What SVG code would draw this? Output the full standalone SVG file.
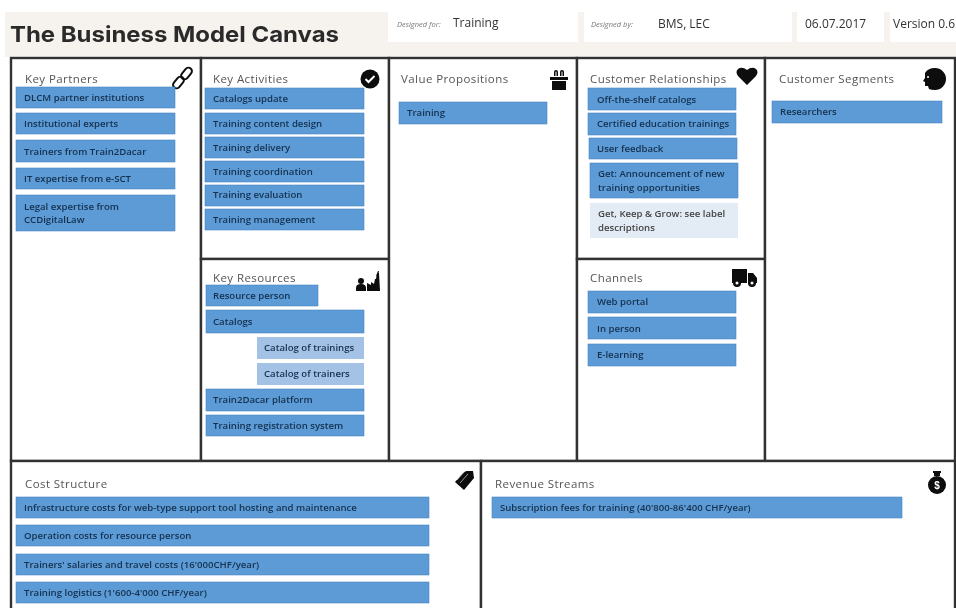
<svg xmlns="http://www.w3.org/2000/svg" width="956" height="608" viewBox="0 0 956 608">
<defs><filter id="soft" x="0" y="0" width="100%" height="100%"><feGaussianBlur stdDeviation="0.4"/></filter></defs>
<style>
.cell{fill:#fff;stroke:#333;stroke-width:2.4}
.h{font:11.5px "Open Sans","Liberation Sans",sans-serif;fill:#555;letter-spacing:.42px}
.b{fill:#5b9bd5;stroke:#4a88c4;stroke-width:.6}
.l{fill:#a4c2e6}
.p{fill:#e3ebf4}
.t{font:600 9.6px "Open Sans","Liberation Sans",sans-serif;fill:#16304f}
.d{fill:#444}
.m{font:12px "Open Sans","Liberation Sans",sans-serif;fill:#333}
.s{font:italic 7.500px "Open Sans","Liberation Sans",sans-serif;fill:#777}
.w{fill:#fff}
.i{fill:#0a0a0a}
</style>
<rect width="956" height="608" fill="#fff"/>
<g filter="url(#soft)">
<g id="header">
<rect x="5" y="12" width="951" height="45" fill="#f6f2ed"/>
<text x="10" y="42" font-family="Inter,'Liberation Sans',sans-serif" font-weight="700" font-size="22" fill="#2b2b2b" textLength="329" lengthAdjust="spacingAndGlyphs">The Business Model Canvas</text>
<rect class="w" x="388" y="10" width="190" height="32"/>
<rect class="w" x="584" y="10" width="208" height="32"/>
<rect class="w" x="797" y="10" width="87" height="32"/>
<rect class="w" x="890" y="10" width="66" height="32"/>
<text class="s" x="397" y="27">Designed for:</text><text class="m" x="453" y="27">Training</text>
<text class="s" x="591" y="27">Designed by:</text><text class="m" x="658" y="28" font-size="11">BMS, LEC</text>
<text class="m" x="805" y="28">06.07.2017</text>
<text class="m" x="893" y="28">Version 0.6</text>
</g>
<g id="key-partners">
<rect class="cell" x="11" y="58" width="190" height="403"/>
<text class="h" x="25" y="83">Key Partners</text>
<g fill="none" stroke="#111" stroke-width="2"><rect x="175" y="76" width="7" height="13" rx="3.500" transform="rotate(40 178.500 82.500)"/><rect x="183" y="67" width="7" height="13" rx="3.500" transform="rotate(40 186.500 73.500)"/></g>
<rect class="b" x="16" y="87" width="159" height="21"/><text class="t" x="24" y="101">DLCM partner institutions</text>
<rect class="b" x="16" y="113" width="159" height="21"/><text class="t" x="24" y="127">Institutional experts</text>
<rect class="b" x="16" y="140" width="159" height="22"/><text class="t" x="24" y="155">Trainers from Train2Dacar</text>
<rect class="b" x="16" y="168" width="159" height="21"/><text class="t" x="24" y="182">IT expertise from e-SCT</text>
<rect class="b" x="16" y="195" width="159" height="36"/><text class="t" x="24" y="210">Legal expertise from</text><text class="t" x="24" y="223">CCDigitalLaw</text>
</g>
<g id="key-activities">
<rect class="cell" x="201" y="58" width="188" height="201"/>
<text class="h" x="213" y="83">Key Activities</text>
<circle class="i" cx="370" cy="79" r="9.500"/><path d="M365.500 79l3 3 6-6" fill="none" stroke="#fff" stroke-width="2"/>
<rect class="b" x="205" y="88" width="159" height="21"/><text class="t" x="213" y="102">Catalogs update</text>
<rect class="b" x="205" y="113" width="159" height="21"/><text class="t" x="213" y="127">Training content design</text>
<rect class="b" x="205" y="137" width="159" height="21"/><text class="t" x="213" y="151">Training delivery</text>
<rect class="b" x="205" y="161" width="159" height="21"/><text class="t" x="213" y="175">Training coordination</text>
<rect class="b" x="205" y="185" width="159" height="21"/><text class="t" x="213" y="198">Training evaluation</text>
<rect class="b" x="205" y="209" width="159" height="21"/><text class="t" x="213" y="223">Training management</text>
</g>
<g id="key-resources">
<rect class="cell" x="201" y="259" width="188" height="202"/>
<text class="h" x="213" y="282">Key Resources</text>
<path class="i" d="M356 291v-3q0-4 5-4t5 4v3zM358 281a3 3 0 1 1 6 0a3 3 0 1 1-6 0zM367 291v-8l4 2v-3l3 2 1-5h1l1-6h2l1 18zM376 276l2-5h1l-1 5z"/>
<rect class="b" x="206" y="285" width="112" height="21"/><text class="t" x="213" y="299">Resource person</text>
<rect class="b" x="206" y="310" width="158" height="23"/><text class="t" x="213" y="325">Catalogs</text>
<rect class="l" x="257" y="337" width="107" height="22"/><text class="t" x="264" y="351">Catalog of trainings</text>
<rect class="l" x="257" y="363" width="107" height="22"/><text class="t" x="264" y="377">Catalog of trainers</text>
<rect class="b" x="206" y="389" width="158" height="22"/><text class="t" x="213" y="403">Train2Dacar platform</text>
<rect class="b" x="206" y="415" width="158" height="21"/><text class="t" x="213" y="429">Training registration system</text>
</g>
<g id="value-propositions">
<rect class="cell" x="389" y="58" width="188" height="403"/>
<text class="h" x="401" y="83">Value Propositions</text>
<path class="i" d="M550 77h18v3h-18zM552 81h14v9h-14zM554 76v-4a2 2 0 0 1 4 0v4h2v-4a2 2 0 0 1 4 0v4h-1.500v-4a.5.500 0 0 0-1 0v4h-5v-4a.5.500 0 0 0-1 0v4z"/>
<rect class="b" x="399" y="102" width="148" height="22"/><text class="t" x="407" y="116">Training</text>
</g>
<g id="customer-relationships">
<rect class="cell" x="577" y="58" width="188" height="201"/>
<text class="h" x="590" y="83">Customer Relationships</text>
<path class="i" d="M747 85l-9-9q-3-4 0-7 4-3 9 1 5-4 9-1 3 3 0 7z"/>
<rect class="b" x="588" y="88" width="148" height="22"/><text class="t" x="597" y="103">Off-the-shelf catalogs</text>
<rect class="b" x="588" y="113" width="148" height="22"/><text class="t" x="597" y="127">Certified education trainings</text>
<rect class="b" x="589" y="138" width="148" height="21"/><text class="t" x="597" y="152">User feedback</text>
<rect class="b" x="590" y="163" width="148" height="35"/><text class="t" x="598" y="177">Get: Announcement of new</text><text class="t" x="598" y="191">training opportunities</text>
<rect class="p" x="590" y="203" width="148" height="35"/><text class="t d" x="598" y="217">Get, Keep &amp; Grow: see label</text><text class="t d" x="598" y="231">descriptions</text>
</g>
<g id="channels">
<rect class="cell" x="577" y="259" width="188" height="202"/>
<text class="h" x="590" y="282">Channels</text>
<path class="i" d="M732 269h15v14h-15zM748 273h5l4 5v5h-9z"/><circle class="i" cx="737" cy="283" r="4"/><circle class="i" cx="752" cy="283" r="4"/><circle class="w" cx="737" cy="283" r="1.500"/><circle class="w" cx="752" cy="283" r="1.500"/>
<rect class="b" x="588" y="291" width="148" height="22"/><text class="t" x="597" y="305">Web portal</text>
<rect class="b" x="588" y="317" width="148" height="22"/><text class="t" x="597" y="332">In person</text>
<rect class="b" x="588" y="344" width="148" height="22"/><text class="t" x="597" y="358">E-learning</text>
</g>
<g id="customer-segments">
<rect class="cell" x="765" y="58" width="190" height="403"/>
<text class="h" x="779" y="83">Customer Segments</text>
<path class="i" d="M925 73q3-5 10-5a11 11 0 0 1 0 22q-4 0-6-1l-1-3h-3v-4l-2-1 2-3z"/><circle class="w" cx="928" cy="77" r="1"/>
<rect class="b" x="772" y="101" width="170" height="22"/><text class="t" x="780" y="115">Researchers</text>
</g>
<g id="cost-structure">
<rect class="cell" x="11" y="461" width="470" height="152"/>
<text class="h" x="25" y="488">Cost Structure</text>
<path class="i" d="M455 482l8-9q2-2 4-2h6l1 7-10 12z"/><path d="M457 480l8-9M460 483l8-9" fill="none" stroke="#fff" stroke-width=".6"/>
<rect class="b" x="16" y="497" width="413" height="21"/><text class="t" x="24" y="511">Infrastructure costs for web-type support tool hosting and maintenance</text>
<rect class="b" x="16" y="525" width="413" height="21"/><text class="t" x="24" y="539">Operation costs for resource person</text>
<rect class="b" x="16" y="554" width="413" height="21"/><text class="t" x="24" y="568">Trainers' salaries and travel costs (16'000CHF/year)</text>
<rect class="b" x="16" y="582" width="413" height="21"/><text class="t" x="24" y="596">Training logistics (1'600-4'000 CHF/year)</text>
</g>
<g id="revenue-streams">
<rect class="cell" x="481" y="461" width="474" height="152"/>
<text class="h" x="495" y="488">Revenue Streams</text>
<circle class="i" cx="937" cy="485" r="9"/><path class="i" d="M933 471h8v2h-1v3h-6v-3h-1z"/><text x="937" y="489" text-anchor="middle" font-family="Liberation Sans,sans-serif" font-weight="700" font-size="10" fill="#fff">$</text>
<rect class="b" x="492" y="497" width="410" height="21"/><text class="t" x="500" y="511">Subscription fees for training (40'800-86'400 CHF/year)</text>
</g>
</g>
</svg>
